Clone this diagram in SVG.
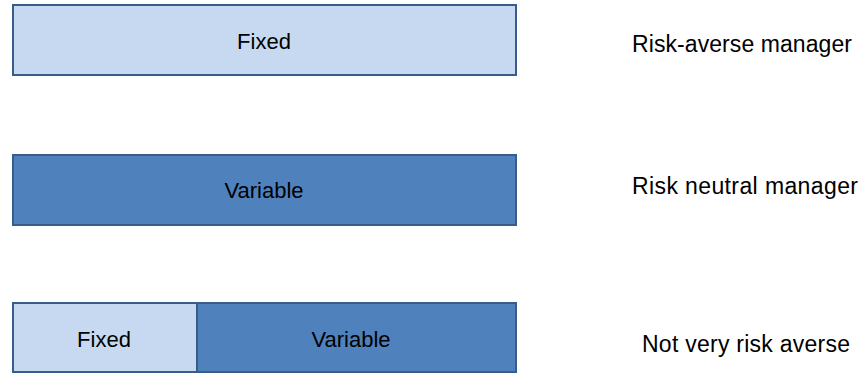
<svg xmlns="http://www.w3.org/2000/svg" width="864" height="375" viewBox="0 0 864 375">
<style>
.box{stroke:#385d8a;stroke-width:2}
.fixed{fill:#c6d9f1}
.var{fill:#4f81bd}
text{font-family:"Liberation Sans",Arial,sans-serif;font-size:22px;fill:#000}
.c{text-anchor:middle}
.lbl{font-size:23px}
</style>
<rect width="864" height="375" fill="#fff"/>
<g id="row1">
<rect class="box fixed" x="13" y="5" width="503" height="70"/>
<text class="c" x="264" y="49">Fixed</text>
</g>
<g id="row2">
<rect class="box var" x="13" y="155" width="503" height="70"/>
<text class="c" x="264" y="198">Variable</text>
</g>
<g id="row3">
<rect class="box fixed" x="13" y="303" width="184" height="69"/>
<rect class="box var" x="197" y="303" width="319" height="69"/>
<text class="c" x="104" y="347">Fixed</text>
<text class="c" x="351" y="347">Variable</text>
</g>
<g id="label1"><text class="lbl" x="632" y="52" textLength="220">Risk-averse manager</text></g>
<g id="label2"><text class="lbl" x="632" y="194" textLength="226">Risk neutral manager</text></g>
<g id="label3"><text class="lbl" x="642" y="352" textLength="208">Not very risk averse</text></g>
<g id="connectors"></g>
</svg>
